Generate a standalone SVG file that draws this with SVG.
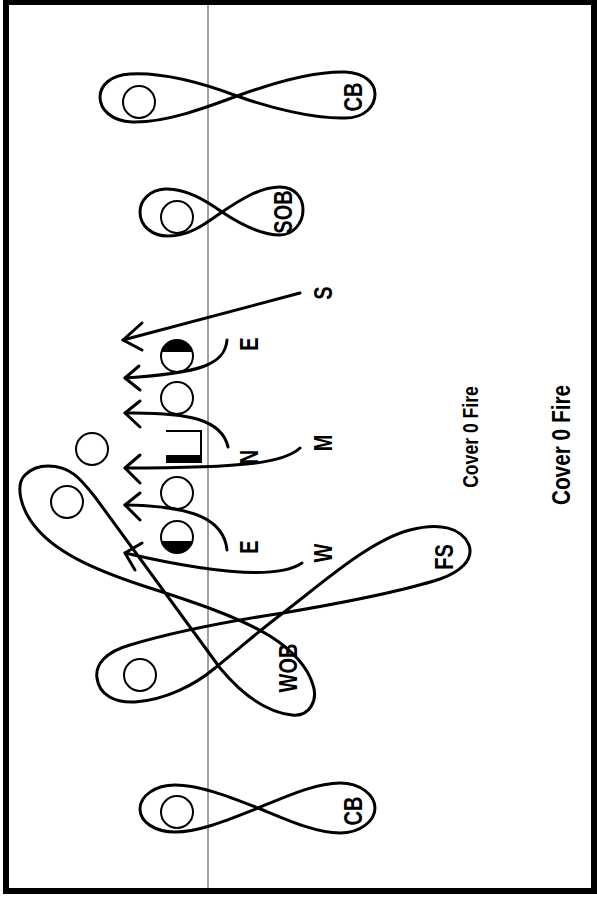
<svg xmlns="http://www.w3.org/2000/svg" width="597" height="897" viewBox="0 0 597 897">
<style>
.loop{fill:none;stroke:#000;stroke-width:3;stroke-linejoin:round}
.arr{fill:none;stroke:#000;stroke-width:3;stroke-linecap:round;stroke-linejoin:round}
.pl{fill:none;stroke:#000;stroke-width:2}
.lbl{font-family:"Liberation Sans",Arial,sans-serif;font-weight:bold;font-size:25px;fill:#000;text-anchor:middle}
</style>
<rect x="0" y="0" width="597" height="897" fill="#fff"/>
<rect x="6" y="2" width="588" height="889" fill="none" stroke="#000" stroke-width="6"/>
<line x1="208" y1="5" x2="208" y2="888" stroke="#808080" stroke-width="1.5"/>

<g id="cb-top">
<path class="loop" d="M237,96 C205,84 165,72 130,74 C110,75 100,86 100,97 C100,110 112,121 132,122 C165,123 205,108 237,96 C270,84 315,71 345,72 C365,73 375,83 375,94 C375,106 365,118 345,118 C315,119 270,108 237,96 Z"/>
<circle class="pl" cx="139" cy="102" r="16"/>
<text class="lbl" transform="translate(362,97) rotate(-90) scale(0.8,1)">CB</text>
</g>

<g id="sob">
<path class="loop" d="M222,212 C205,200 185,188 165,189 C150,190 140,200 140,212 C140,226 152,236 168,236 C190,236 205,224 222,212 C240,200 260,187 280,187 C295,187 303,198 303,210 C303,223 293,235 280,235 C260,235 240,224 222,212 Z"/>
<circle class="pl" cx="177" cy="217" r="16"/>
<text class="lbl" transform="translate(292,212) rotate(-90) scale(0.8,1)">SOB</text>
</g>

<g id="cb-bottom">
<path class="loop" d="M258,808 C230,797 200,785 175,785 C155,785 140,796 140,809 C140,822 155,832 175,832 C200,832 230,819 258,808 C285,797 315,783 340,783 C360,783 375,795 375,808 C375,821 360,833 340,833 C315,833 285,819 258,808 Z"/>
<circle class="pl" cx="177" cy="812" r="16"/>
<text class="lbl" transform="translate(362,811) rotate(-90) scale(0.8,1)">CB</text>
</g>

<g id="wob">
<path class="loop" d="M48,466 C70,466 80,478 95,497 L220,668 C240,692 265,712 292,715 C310,717 318,700 313,685 C308,668 295,652 270,636 C240,618 200,604 150,588 C100,572 60,555 38,530 C20,510 15,485 25,475 C32,468 40,466 48,466 Z"/>
<circle class="pl" cx="67" cy="502" r="16"/>
<text class="lbl" transform="translate(297,668) rotate(-90) scale(0.8,1)">WOB</text>
</g>

<g id="fs">
<path class="loop" d="M283,613 C250,618 180,630 130,645 C105,652 95,665 97,678 C99,695 115,703 135,702 C165,700 195,685 215,668 C240,648 260,630 283,613 C320,585 370,540 410,530 C440,522 462,528 469,545 C474,560 460,572 440,579 C400,592 330,605 283,613 Z"/>
<circle class="pl" cx="140" cy="675" r="16"/>
<text class="lbl" transform="translate(453,557) rotate(-90) scale(0.8,1)">FS</text>
</g>

<g id="offense">
<circle id="tackle-top" class="pl" cx="177" cy="356" r="16"/>
<path d="M161.5,352 A16,16 0 0 1 192.5,352 Z" fill="#000"/>
<circle id="guard-top" class="pl" cx="177" cy="398" r="16"/>
<circle id="back" class="pl" cx="92" cy="449" r="16"/>
<g id="center">
<polyline class="pl" points="166,431 201,431 201,459"/>
<rect x="166" y="455" width="36" height="8" fill="#000"/>
</g>
<circle id="guard-bottom" class="pl" cx="177" cy="493" r="16"/>
<circle id="tackle-bottom" class="pl" cx="177" cy="537" r="16"/>
<path d="M161.5,541 A16,16 0 0 0 192.5,541 Z" fill="#000"/>
</g>

<g id="labels">
<text class="lbl" transform="translate(332,293) rotate(-90) scale(0.8,1)">S</text>
<text class="lbl" transform="translate(258,344) rotate(-90) scale(0.8,1)">E</text>
<text class="lbl" transform="translate(258,457) rotate(-90) scale(0.8,1)">N</text>
<text class="lbl" transform="translate(332,443) rotate(-90) scale(0.8,1)">M</text>
<text class="lbl" transform="translate(258,547) rotate(-90) scale(0.8,1)">E</text>
<text class="lbl" transform="translate(332,553) rotate(-90) scale(0.8,1)">W</text>
<text class="lbl" style="font-size:22px" transform="translate(478,437) rotate(-90) scale(0.8,1)">Cover 0 Fire</text>
<text class="lbl" style="font-size:26px" transform="translate(570,445) rotate(-90) scale(0.8,1)">Cover 0 Fire</text>
</g>

<g id="connectors">
<path class="arr" d="M300,293 L123,340"/>
<polyline class="arr" points="142,323 123,340 142,350"/>
<path class="arr" d="M227,340 C225,365 200,373 125,378"/>
<polyline class="arr" points="139,366 125,378 140,390"/>
<path class="arr" d="M228,447 C222,420 190,412 125,413"/>
<polyline class="arr" points="140,401 125,413 140,427"/>
<path class="arr" d="M300,448 C285,462 250,468 125,468"/>
<polyline class="arr" points="140,455 125,468 140,483"/>
<path class="arr" d="M227,550 C224,520 195,506 125,505"/>
<polyline class="arr" points="140,493 125,505 140,520"/>
<path class="arr" d="M302,563 C280,578 220,575 125,553"/>
<polyline class="arr" points="142,543 125,553 135,570"/>
</g>
</svg>
